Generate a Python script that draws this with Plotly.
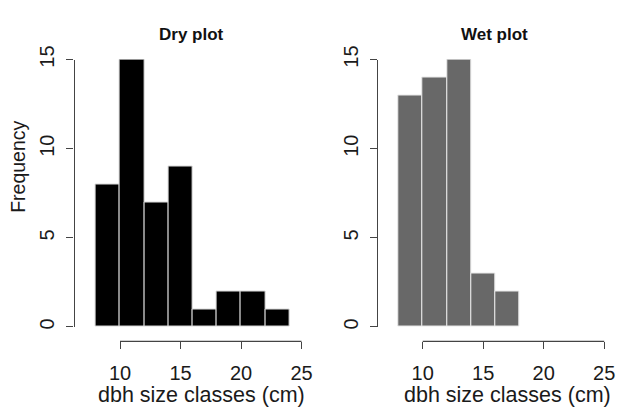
import plotly.graph_objects as go

# ---- data ----
bin_edges = [8, 10, 12, 14, 16, 18, 20, 22, 24]
dry_counts = [8, 15, 7, 9, 1, 2, 2, 1]
wet_edges = [8, 10, 12, 14, 16, 18]
wet_counts = [13, 14, 15, 3, 2]
x_ticks = [10, 15, 20, 25]
y_ticks = [0, 5, 10, 15]
titles = ["Dry plot", "Wet plot"]
x_label = "dbh size classes (cm)"
y_label = "Frequency"

W, H = 617, 410
FONT = "Liberation Sans, Arial, Helvetica, sans-serif"


def mids(edges):
    return [(a + b) / 2 for a, b in zip(edges[:-1], edges[1:])]


def widths(edges):
    return [b - a for a, b in zip(edges[:-1], edges[1:])]


fig = go.Figure()
fig.add_trace(go.Bar(x=mids(bin_edges), y=dry_counts, width=widths(bin_edges),
                     marker=dict(color="#000000", line=dict(color="#d8d8d8", width=1)),
                     xaxis="x", yaxis="y", hoverinfo="skip"))
fig.add_trace(go.Bar(x=mids(wet_edges), y=wet_counts, width=widths(wet_edges),
                     marker=dict(color="#686868", line=dict(color="#e8e8e8", width=1)),
                     xaxis="x2", yaxis="y2", hoverinfo="skip"))

px_per_x = 12.1
left_10, right_10 = 120.0, 422.7
y0_px, y15_px = 326.5, 47.5
xaxis_px = 341.5

def xdom(p10):
    return [(p10 - 4 * px_per_x) / W, (p10 + 16 * px_per_x) / W]

ydom = [(H - y0_px) / H, (H - y15_px) / H]
xpos = (H - xaxis_px) / H

AX = "#444444"
tickfont = dict(family=FONT, size=20, color="#1a1a1a")
common_x = dict(range=[6, 26], showgrid=False, zeroline=False, showline=False,
                ticks="outside", ticklen=7, tickwidth=1.2, tickcolor=AX,
                tickvals=x_ticks, tickfont=tickfont, anchor="free", position=xpos,
                ticklabelstandoff=7, fixedrange=True)
common_y = dict(range=[0, 15], domain=ydom, showgrid=False, zeroline=False,
                showline=True, linecolor=AX, linewidth=1.2,
                ticks="outside", ticklen=7, tickwidth=1.2, tickcolor=AX,
                tickvals=y_ticks, tickfont=tickfont, tickangle=-90,
                anchor="free", ticklabelstandoff=4, fixedrange=True)

fig.update_layout(
    width=W, height=H, margin=dict(l=0, r=0, t=0, b=0),
    paper_bgcolor="white", plot_bgcolor="white", showlegend=False,
    bargap=0,
    xaxis=dict(domain=xdom(left_10), **common_x),
    xaxis2=dict(domain=xdom(right_10), **common_x),
    yaxis=dict(position=73.5 / W, **common_y),
    yaxis2=dict(position=377 / W, **common_y),
)

# x axis baselines (span first to last tick, R style)
for xr in ["x", "x2"]:
    fig.add_shape(type="line", xref=xr, yref="paper", x0=x_ticks[0], x1=x_ticks[-1],
                  y0=xpos, y1=xpos, line=dict(color=AX, width=1.2))

# titles
for cx, t in zip([191.5, 494.7], titles):
    fig.add_annotation(x=cx / W, y=(H - 21) / H, xref="paper", yref="paper",
                       text="<b>%s</b>" % t, showarrow=False,
                       font=dict(family=FONT, size=17, color="#111"),
                       xanchor="center", yanchor="middle")
# x labels
for cx in [201, 507]:
    fig.add_annotation(x=cx / W, y=(H - 397) / H, xref="paper", yref="paper",
                       text=x_label, showarrow=False,
                       font=dict(family=FONT, size=21.5, color="#1a1a1a"),
                       xanchor="center", yanchor="middle")
# y label
fig.add_annotation(x=18.5 / W, y=(H - 160) / H, xref="paper", yref="paper",
                   text=y_label, showarrow=False, textangle=-90,
                   font=dict(family=FONT, size=19.5, color="#1a1a1a"),
                   xanchor="center", yanchor="middle")

fig.write_html("out.html", config={"displayModeBar": False})
